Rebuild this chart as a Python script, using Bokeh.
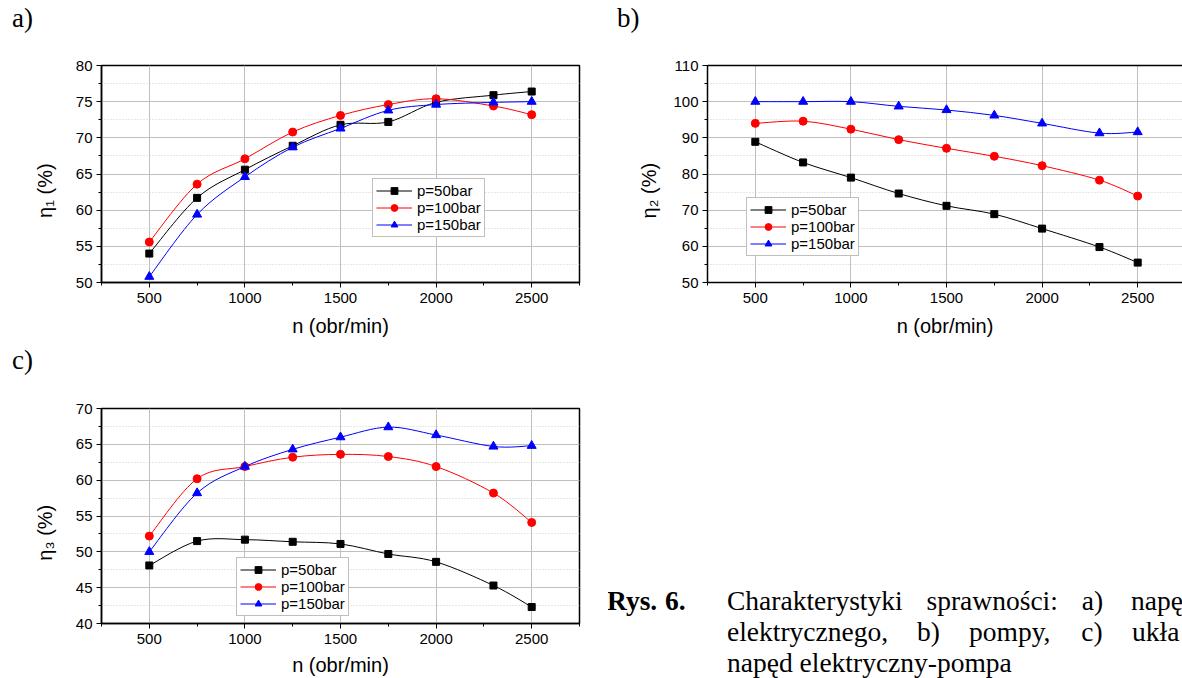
from bokeh.plotting import figure
from bokeh.models import (Range1d, SingleIntervalTicker, FixedTicker, LinearAxis, Legend,
                          LegendItem, ColumnDataSource, Div)
from bokeh.layouts import column, row
from bokeh.embed import file_html
from bokeh.resources import INLINE

# ---------------- data ----------------
n_rpm = [500, 750, 1000, 1250, 1500, 1750, 2000, 2300, 2500]
series_labels = ["p=50bar", "p=100bar", "p=150bar"]

eta1_p50 = [54.0, 61.7, 65.6, 68.9, 71.8, 72.2, 74.9, 75.9, 76.4]
eta1_p100 = [55.6, 63.6, 67.1, 70.8, 73.1, 74.6, 75.4, 74.4, 73.2]
eta1_p150 = [50.8, 59.4, 64.6, 68.7, 71.3, 73.8, 74.6, 74.9, 75.0]

eta2_p50 = [88.9, 83.2, 79.0, 74.6, 71.2, 68.9, 64.9, 59.8, 55.5]
eta2_p100 = [94.0, 94.6, 92.4, 89.5, 87.1, 84.9, 82.3, 78.3, 73.9]
eta2_p150 = [100.0, 100.0, 100.0, 98.7, 97.7, 96.2, 94.0, 91.3, 91.6]

eta3_p50 = [48.1, 51.5, 51.7, 51.4, 51.1, 49.7, 48.6, 45.3, 42.3]
eta3_p100 = [52.2, 60.2, 61.9, 63.2, 63.6, 63.3, 61.9, 58.2, 54.1]
eta3_p150 = [50.0, 58.2, 61.9, 64.3, 66.0, 67.4, 66.3, 64.7, 64.8]

x_label = "n (obr/min)"
y_labels = ["\u03b7\u2081 (%)", "\u03b7\u2082 (%)", "\u03b7\u2083 (%)"]
panel_tags = ["a)", "b)", "c)"]

# caption as visible in the reference (the page edge cuts the last words)
caption_bold = ["Rys.", "6."]
caption_line1 = ["Charakterystyki", "sprawności:", "a)", "napę"]
caption_line2 = ["elektrycznego,", "b)", "pompy,", "c)", "ukła"]
caption_line3 = ["napęd elektryczny-pompa"]

# ---------------- styling ----------------
COLORS = ["black", "red", "blue"]
MARKERS = ["square", "circle", "triangle"]
MSIZES = [7, 8, 9]
SANS = "Liberation Sans"
SERIF_CSS = "'Liberation Serif', 'Times New Roman', serif"


def bezier_path(xs, ys):
    """Smooth (Catmull-Rom style) connection through the data points."""
    n = len(xs)
    d = {k: [] for k in ("x0", "y0", "x1", "y1", "cx0", "cy0", "cx1", "cy1")}
    for i in range(n - 1):
        ip = max(i - 1, 0)
        inx = min(i + 2, n - 1)
        d["x0"].append(xs[i]); d["y0"].append(ys[i])
        d["x1"].append(xs[i + 1]); d["y1"].append(ys[i + 1])
        d["cx0"].append(xs[i] + (xs[i + 1] - xs[ip]) / 6.0)
        d["cy0"].append(ys[i] + (ys[i + 1] - ys[ip]) / 6.0)
        d["cx1"].append(xs[i + 1] - (xs[inx] - xs[i]) / 6.0)
        d["cy1"].append(ys[i + 1] - (ys[inx] - ys[i]) / 6.0)
    return ColumnDataSource(d)


def make_panel(width, height, borders, x_end, y_rng, y_step, ylab, ylab_standoff,
               xlab_standoff, series, legend_loc, boxed=True):
    left, right, top, bottom = borders
    p = figure(width=width, height=height, x_range=Range1d(250, x_end),
               y_range=Range1d(*y_rng), output_backend="svg", toolbar_location=None,
               min_border_left=left, min_border_right=right, min_border_top=top,
               min_border_bottom=bottom, background_fill_color="white",
               border_fill_color="white")
    xt = SingleIntervalTicker(interval=500, num_minor_ticks=2)
    yt = SingleIntervalTicker(interval=y_step, num_minor_ticks=2)
    p.xaxis.ticker = xt
    p.yaxis.ticker = yt
    p.xgrid.ticker = xt
    p.ygrid.ticker = yt
    for ax in (p.xaxis[0], p.yaxis[0]):
        ax.axis_line_color = "black"
        ax.axis_line_width = 1.5
        ax.major_tick_line_color = "black"
        ax.major_tick_line_width = 1
        ax.major_tick_out = 5
        ax.major_tick_in = 0
        ax.minor_tick_line_color = "black"
        ax.minor_tick_out = 3
        ax.minor_tick_in = 0
        ax.major_label_text_font = SANS
        ax.major_label_text_font_size = "15px"
        ax.major_label_text_color = "black"
        ax.axis_label_text_font = SANS
        ax.axis_label_text_font_size = "20px"
        ax.axis_label_text_font_style = "normal"
        ax.axis_label_text_color = "black"
    p.xaxis.major_label_standoff = 5
    p.yaxis.major_label_standoff = 4
    p.xaxis.axis_label = x_label
    p.xaxis.axis_label_standoff = xlab_standoff
    p.yaxis.axis_label = ylab + "\u00a0" * 6
    p.yaxis.axis_label_standoff = ylab_standoff

    p.xgrid.grid_line_color = "#bfbfbf"
    p.ygrid.grid_line_color = "#bfbfbf"
    p.ygrid.minor_grid_line_color = "#cfcfcf"
    p.ygrid.minor_grid_line_dash = "1 2"

    if boxed:
        p.outline_line_color = "black"
        p.outline_line_width = 1.5
        p.outline_line_alpha = 1.0
    else:
        # right side of this panel is cut off by the page edge: only a top border line
        p.outline_line_color = None
        top_ax = LinearAxis(ticker=FixedTicker(ticks=[]), axis_line_color="black",
                            axis_line_width=1.5, major_tick_line_color=None,
                            minor_tick_line_color=None)
        p.add_layout(top_ax, "above")

    items = []
    for lab, ys, c, m, s in zip(series_labels, series, COLORS, MARKERS, MSIZES):
        lr = p.bezier(x0="x0", y0="y0", x1="x1", y1="y1", cx0="cx0", cy0="cy0",
                      cx1="cx1", cy1="cy1", source=bezier_path(n_rpm, ys),
                      line_color=c, line_width=1)
        sr = p.scatter(n_rpm, ys, marker=m, size=s, fill_color=c, line_color=c)
        items.append(LegendItem(label=lab, renderers=[lr, sr]))
    leg = Legend(items=items, location=legend_loc, margin=0, padding=3, spacing=0,
                 glyph_width=36, glyph_height=17, label_height=17, label_standoff=5,
                 label_text_font=SANS, label_text_font_size="15px",
                 label_text_color="black", border_line_color="#808080",
                 border_line_width=1, background_fill_color="white",
                 background_fill_alpha=1.0)
    p.add_layout(leg)
    return p


def text_span(text, left, baseline, origin_top, size, bold=False, lh=1.0):
    # Liberation Serif metrics: ascent .891, descent .216
    top = baseline - origin_top - ((lh - 1.107) / 2 + 0.891) * size
    weight = "bold" if bold else "normal"
    return (f'<span style="position:absolute;left:{left}px;top:{top:.1f}px;'
            f'font-family:{SERIF_CSS};font-size:{size}px;line-height:{lh};'
            f'font-weight:{weight};white-space:nowrap;color:#000;">{text}</span>')


def text_box(spans, width, height):
    return Div(text=(f'<div style="position:relative;width:{width}px;height:{height}px;'
                     f'overflow:hidden;margin:0;padding:0;">' + "".join(spans) + "</div>"),
               width=width, height=height, margin=0, styles={"overflow": "hidden"})


# ---------------- panels ----------------
ROW1_TOP, ROW2_TOP = 40, 342
fa = make_panel(608, ROW2_TOP - ROW1_TOP, (101, 29, 25, 60), 2750, (50, 80), 5,
                y_labels[0], 17, 9, [eta1_p50, eta1_p100, eta1_p150], (271, 45))
fb = make_panel(574, ROW2_TOP - ROW1_TOP, (99, 0, 25, 60), 250 + 475 * 2500 / 478,
                (50, 110), 10, y_labels[1], 10, 9, [eta2_p50, eta2_p100, eta2_p150],
                (39, 26), boxed=False)
fc = make_panel(608, 290, (101, 29, 20, 54), 2750, (40, 70), 5, y_labels[2], 17, 7,
                [eta3_p50, eta3_p100, eta3_p150], (135, 7))

# panel letters
TAG = 27
tags_top = text_box([text_span(panel_tags[0], 12, 28, 0, TAG, lh=0.8),
                     text_span(panel_tags[1], 617, 28, 0, TAG, lh=0.8)], 1182, ROW1_TOP)
tags_c = text_box([text_span(panel_tags[2], 12, 369.5, ROW2_TOP, TAG, lh=0.8)],
                  608, 388 - ROW2_TOP)

# caption (page origin of this box: x=608, y=ROW2_TOP); justified lines, hanging indent
CX, CY, CAP = 608, ROW2_TOP, 27.5
BL = [610, 640.8, 671.6]
cap_spans = [text_span(caption_bold[0], 607 - CX, BL[0], CY, CAP, bold=True),
             text_span(caption_bold[1], 665 - CX, BL[0], CY, CAP, bold=True)]
for w, x in zip(caption_line1, [727, 926.5, 1081.7, 1131]):
    cap_spans.append(text_span(w, x - CX, BL[0], CY, CAP))
for w, x in zip(caption_line2, [727, 917, 969, 1081.3, 1132]):
    cap_spans.append(text_span(w, x - CX, BL[1], CY, CAP))
for w, x in zip(caption_line3, [727]):
    cap_spans.append(text_span(w, x - CX, BL[2], CY, CAP))
caption = text_box(cap_spans, 574, 678 - ROW2_TOP)

layout = column(tags_top, row(fa, fb), row(column(tags_c, fc), caption))
open("out.html", "w").write(file_html(layout, INLINE))
